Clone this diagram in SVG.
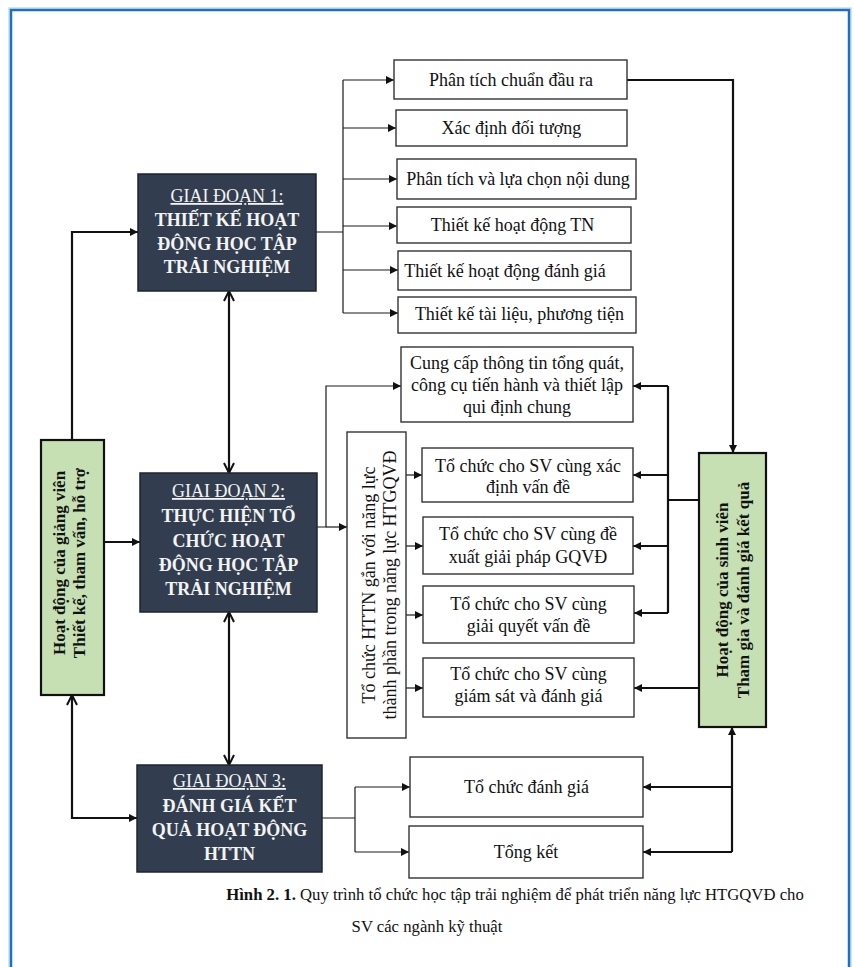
<svg xmlns="http://www.w3.org/2000/svg" width="854" height="967" viewBox="0 0 854 967">
  <defs>
    <style>
      .frame { fill: #ffffff; stroke: #1b72c4; stroke-width: 2.5; }
      .frame2 { fill: none; stroke: #a9cdee; stroke-width: 1; }
      .box { fill: #ffffff; stroke: #333333; stroke-width: 1.4; }
      .stage { fill: #323e50; stroke: #1e2430; stroke-width: 1.5; }
      .green { fill: #c6e0b4; stroke: #111111; stroke-width: 2.2; }
      .t { font-family: "Liberation Serif", "Times New Roman", serif; font-size: 18px; fill: #111111; text-anchor: middle; }
      .st { font-family: "Liberation Serif", "Times New Roman", serif; font-size: 18px; fill: #f4f4f4; text-anchor: middle; font-weight: bold; }
      .sth { font-weight: normal; text-decoration: underline; }
      .gt { font-family: "Liberation Serif", "Times New Roman", serif; font-size: 17px; fill: #111111; text-anchor: middle; font-weight: bold; }
      .cap { font-family: "Liberation Serif", "Times New Roman", serif; font-size: 16.7px; fill: #111111; text-anchor: middle; }
      .thin { fill: none; stroke: #1a1a1a; stroke-width: 1.2; }
      .thick { fill: none; stroke: #111111; stroke-width: 2.2; }
    </style>
    <marker id="tri" viewBox="0 0 10 10" refX="10" refY="5" markerWidth="10" markerHeight="8" markerUnits="userSpaceOnUse" orient="auto-start-reverse">
      <path d="M0,0 L10,5 L0,10 z" fill="#111111"/>
    </marker>
    <marker id="vee" viewBox="0 0 12 12" refX="11" refY="6" markerWidth="12" markerHeight="12" markerUnits="userSpaceOnUse" orient="auto-start-reverse">
      <path d="M1,1 L11,6 L1,11" fill="none" stroke="#111111" stroke-width="2"/>
    </marker>
  </defs>

  <!-- page frame -->
  <rect x="0" y="0" width="854" height="967" fill="#ffffff"/>
  <rect class="frame2" x="9" y="8" width="842" height="980"/>
  <rect class="frame" x="11" y="10" width="838" height="980"/>

  <!-- connectors -->
  <g id="connectors">
    <!-- stage 1 to design tasks -->
    <path class="thin" d="M316,232 H343 M343,80 V313"/>
    <path class="thin" d="M343,80 H394" marker-end="url(#tri)"/>
    <path class="thin" d="M343,128 H396" marker-end="url(#tri)"/>
    <path class="thin" d="M343,179 H397" marker-end="url(#tri)"/>
    <path class="thin" d="M343,226 H397" marker-end="url(#tri)"/>
    <path class="thin" d="M343,270 H398" marker-end="url(#tri)"/>
    <path class="thin" d="M343,313 H398" marker-end="url(#tri)"/>
    <!-- learning outcomes to student activity -->
    <path class="thick" d="M627,80 H733 V453" marker-end="url(#tri)"/>

    <!-- stage 2 to implementation tasks -->
    <path class="thin" d="M317,527 H326 V386 H401" marker-end="url(#tri)"/>
    <path class="thin" d="M326,527 H347" marker-end="url(#tri)"/>
    <path class="thin" d="M406,475 H422" marker-end="url(#tri)"/>
    <path class="thin" d="M406,546 H423" marker-end="url(#tri)"/>
    <path class="thin" d="M406,615 H423" marker-end="url(#tri)"/>
    <path class="thin" d="M406,688 H423" marker-end="url(#tri)"/>

    <!-- student activity to implementation tasks -->
    <path class="thick" d="M699,500 H668 M668,386 V613"/>
    <path class="thick" d="M668,386 H633" marker-end="url(#tri)"/>
    <path class="thick" d="M668,475 H633" marker-end="url(#tri)"/>
    <path class="thick" d="M668,546 H633" marker-end="url(#tri)"/>
    <path class="thick" d="M668,613 H634" marker-end="url(#tri)"/>
    <path class="thick" d="M699,688 H634" marker-end="url(#tri)"/>

    <!-- stage 3 to evaluation tasks -->
    <path class="thin" d="M322,818 H355 M355,787 V852"/>
    <path class="thin" d="M355,787 H410" marker-end="url(#tri)"/>
    <path class="thin" d="M355,852 H409" marker-end="url(#tri)"/>
    <!-- student activity to evaluation tasks -->
    <path class="thick" d="M732,852 V727" marker-end="url(#tri)"/>
    <path class="thick" d="M732,787 H643" marker-end="url(#tri)"/>
    <path class="thick" d="M732,852 H643" marker-end="url(#tri)"/>

    <!-- stage links -->
    <path class="thick" d="M229,291 V473" marker-start="url(#vee)" marker-end="url(#vee)"/>
    <path class="thick" d="M229,612 V765" marker-start="url(#vee)" marker-end="url(#vee)"/>

    <!-- lecturer activity to stages -->
    <path class="thick" d="M72,440 V232 H138" marker-end="url(#tri)"/>
    <path class="thick" d="M104,542 H140" marker-end="url(#tri)"/>
    <path class="thick" d="M72,695 V818 H137" marker-start="url(#vee)" marker-end="url(#tri)"/>
  </g>

  <!-- stages -->
  <g id="stage1">
    <rect class="stage" x="138" y="174" width="178" height="117"/>
    <text class="st" x="227" y="202"><tspan class="sth">GIAI ĐOẠN 1:</tspan></text>
    <text class="st" x="227" y="226">THIẾT KẾ HOẠT</text>
    <text class="st" x="227" y="250">ĐỘNG HỌC TẬP</text>
    <text class="st" x="227" y="273">TRẢI NGHIỆM</text>
  </g>
  <g id="stage2">
    <rect class="stage" x="140" y="473" width="177" height="139"/>
    <text class="st" x="228.5" y="497"><tspan class="sth">GIAI ĐOẠN 2:</tspan></text>
    <text class="st" x="228.5" y="522">THỰC HIỆN TỔ</text>
    <text class="st" x="228.5" y="547">CHỨC HOẠT</text>
    <text class="st" x="228.5" y="571">ĐỘNG HỌC TẬP</text>
    <text class="st" x="228.5" y="595">TRẢI NGHIỆM</text>
  </g>
  <g id="stage3">
    <rect class="stage" x="137" y="765" width="185" height="107"/>
    <text class="st" x="229.5" y="787"><tspan class="sth">GIAI ĐOẠN 3:</tspan></text>
    <text class="st" x="229.5" y="812">ĐÁNH GIÁ KẾT</text>
    <text class="st" x="229.5" y="836">QUẢ HOẠT ĐỘNG</text>
    <text class="st" x="229.5" y="860">HTTN</text>
  </g>

  <!-- lecturer activity -->
  <g id="lecturer">
    <rect class="green" x="41" y="440" width="63" height="255"/>
    <text class="gt" transform="translate(65,563) rotate(-90)">Hoạt động của giảng viên</text>
    <text class="gt" transform="translate(85,563) rotate(-90)">Thiết kế, tham vấn, hỗ trợ</text>
  </g>

  <!-- student activity -->
  <g id="student">
    <rect class="green" x="699" y="453" width="67" height="274"/>
    <text class="gt" transform="translate(728,590) rotate(-90)">Hoạt động của sinh viên</text>
    <text class="gt" transform="translate(749,590) rotate(-90)">Tham gia và đánh giá kết quả</text>
  </g>

  <!-- stage 1 tasks -->
  <g id="d1">
    <rect class="box" x="394" y="60" width="233" height="39"/>
    <text class="t" x="511" y="86">Phân tích chuẩn đầu ra</text>
  </g>
  <g id="d2">
    <rect class="box" x="396" y="110" width="231" height="36"/>
    <text class="t" x="511.5" y="134">Xác định đối tượng</text>
  </g>
  <g id="d3">
    <rect class="box" x="397" y="159" width="239" height="40"/>
    <text class="t" x="518" y="185">Phân tích và lựa chọn nội dung</text>
  </g>
  <g id="d4">
    <rect class="box" x="397" y="207" width="234" height="36"/>
    <text class="t" x="512.5" y="231">Thiết kế hoạt động TN</text>
  </g>
  <g id="d5">
    <rect class="box" x="398" y="251" width="233" height="39"/>
    <text class="t" x="505" y="277">Thiết kế hoạt động đánh giá</text>
  </g>
  <g id="d6">
    <rect class="box" x="398" y="297" width="238" height="36"/>
    <text class="t" x="519.5" y="320">Thiết kế tài liệu, phương tiện</text>
  </g>

  <!-- stage 2 tasks -->
  <g id="i0">
    <rect class="box" x="401" y="347" width="232" height="75"/>
    <text class="t" x="517" y="369">Cung cấp thông tin tổng quát,</text>
    <text class="t" x="517" y="391">công cụ tiến hành và thiết lập</text>
    <text class="t" x="517" y="413">qui định chung</text>
  </g>
  <g id="i-label">
    <rect class="box" x="347" y="432" width="59" height="306"/>
    <text class="t" transform="translate(375,585) rotate(-90)">Tổ chức HTTN gắn với năng lực</text>
    <text class="t" transform="translate(396,585) rotate(-90)">thành phần trong năng lực HTGQVĐ</text>
  </g>
  <g id="i1">
    <rect class="box" x="422" y="448" width="211" height="54"/>
    <text class="t" x="528" y="472">Tổ chức cho SV cùng xác</text>
    <text class="t" x="528" y="493">định vấn đề</text>
  </g>
  <g id="i2">
    <rect class="box" x="423" y="517" width="210" height="57"/>
    <text class="t" x="528" y="540">Tổ chức cho SV cùng đề</text>
    <text class="t" x="528" y="563">xuất giải pháp GQVĐ</text>
  </g>
  <g id="i3">
    <rect class="box" x="423" y="586" width="211" height="57"/>
    <text class="t" x="528.5" y="610">Tổ chức cho SV cùng</text>
    <text class="t" x="528.5" y="632">giải quyết vấn đề</text>
  </g>
  <g id="i4">
    <rect class="box" x="423" y="658" width="211" height="59"/>
    <text class="t" x="528.5" y="680">Tổ chức cho SV cùng</text>
    <text class="t" x="528.5" y="702">giám sát và đánh giá</text>
  </g>

  <!-- stage 3 tasks -->
  <g id="e1">
    <rect class="box" x="410" y="757" width="233" height="60"/>
    <text class="t" x="526.5" y="793">Tổ chức đánh giá</text>
  </g>
  <g id="e2">
    <rect class="box" x="409" y="826" width="234" height="52"/>
    <text class="t" x="526" y="858">Tổng kết</text>
  </g>

  <!-- caption -->
  <g id="caption">
    <text class="cap" x="515" y="900"><tspan font-weight="bold">Hình 2. 1.</tspan> Quy trình tổ chức học tập trải nghiệm để phát triển năng lực HTGQVĐ cho</text>
    <text class="cap" x="427" y="932">SV các ngành kỹ thuật</text>
  </g>
</svg>
